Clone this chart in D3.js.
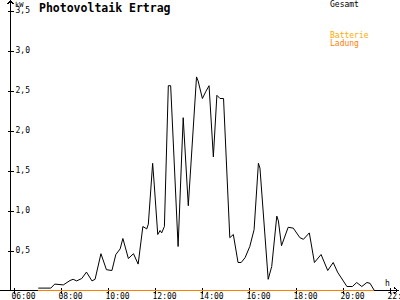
<!DOCTYPE html>
<html>
<head>
<meta charset="utf-8">
<script src="https://cdn.jsdelivr.net/npm/d3@7"></script>
<style>
  body{margin:0;background:#fff;}
  svg text{font-family:"DejaVu Sans Mono",monospace;}
</style>
</head>
<body>
<div class="chart"></div>
<script>
/*Data*/
var gesamtTimes=["07:02","07:34","07:44","08:06","08:23","08:31","08:40","08:53","09:05","09:19",
  "09:27","09:42","09:56","10:10","10:20","10:31","10:38","10:52","11:05","11:17",
  "11:29","11:39","11:43","11:54","11:58","12:07","12:13","12:17","12:24","12:34",
  "12:40","12:59","13:12","13:25","13:46","13:50","14:01","14:10","14:18","14:29",
  "14:38","14:46","14:55","15:11","15:20","15:32","15:40","15:50","16:02","16:13",
  "16:24","16:28","16:49","16:58","17:11","17:15","17:23","17:40","17:53","18:10",
  "18:19","18:34","18:47","19:04","19:21","19:35","19:46","20:10","20:24","20:35",
  "20:48","21:01","21:09","21:20"];
var gesamtValues=[0.03,0.03,0.08,0.07,0.125,0.14,0.12,0.15,0.23,0.12,
  0.14,0.46,0.26,0.25,0.45,0.52,0.65,0.40,0.46,0.33,
  0.80,0.77,0.83,1.59,1.33,0.70,0.75,0.72,0.80,2.56,
  2.56,0.55,2.16,1.06,2.67,2.62,2.40,2.49,2.56,1.67,
  2.44,2.40,2.40,0.66,0.70,0.35,0.35,0.41,0.55,0.76,
  1.59,1.53,0.14,0.30,0.93,0.87,0.56,0.79,0.78,0.66,
  0.64,0.72,0.35,0.45,0.25,0.35,0.23,0.05,0.05,0.10,
  0.05,0.10,0.09,0.0];
var ladungTimes=["07:02","21:20"];
var ladungValues=[0,0];
var xTicks=[6,8,10,12,14,16,18,20,22];
var xLabels=["06:00","08:00","10:00","12:00","14:00","16:00","18:00","20:00","22:"];
var yTicks=[0.5,1.0,1.5,2.0,2.5,3.0,3.5];
var legendNames=["Gesamt","Batterie","Ladung"];

/*dimensions*/
var width=400, height=300;
var axisX=10.5, axisY=290.5;

function toHours(s){
  var p=s.split(":");
  return +p[0]+(+p[1])/60;
}
var gesamt=gesamtTimes.map(function(t,i){return {h:toHours(t), v:gesamtValues[i]};});
var ladung=ladungTimes.map(function(t,i){return {h:toHours(t), v:ladungValues[i]};});

/*Scales*/
var xScale=d3.scaleLinear().domain([6,22]).range([14,390]);
var yScale=d3.scaleLinear().domain([0,3.5]).range([axisY,10.5]);

var canvas=d3.select(".chart").append("svg")
  .attr("width", width)
  .attr("height", height);

/*title*/
canvas.append("text")
  .text("Photovoltaik Ertrag")
  .attr("x", 39)
  .attr("y", 12)
  .style("font-weight", "bold")
  .style("font-size", "11.5px")
  .style("fill", "#000");

/*legend*/
var legendColors=["#000000","#ffaa00","#ff8000"];
var legendY=[7,38,46];
legendNames.forEach(function(n,i){
  canvas.append("text")
    .text(n)
    .attr("x", 330)
    .attr("y", legendY[i])
    .style("font-size", "8px")
    .style("fill", legendColors[i]);
});

/*lines*/
var line=d3.line()
  .x(function(d){return xScale(d.h)})
  .y(function(d){return yScale(d.v)});

/*axes*/
var yAxis=d3.axisLeft(yScale)
  .tickValues(yTicks)
  .tickFormat(function(d){return d3.format(".1f")(d).replace(".", ",")});
var gy=canvas.append("g")
  .attr("class", "y-axis")
  .attr("transform", "translate("+axisX+",0)")
  .call(yAxis);
gy.select(".domain").remove();
gy.selectAll(".tick line").attr("x1", -3).attr("x2", 3).attr("stroke", "#000");
gy.selectAll(".tick text")
  .attr("x", 5)
  .attr("dy", "0.3em")
  .attr("text-anchor", "start")
  .style("font-size", "8px")
  .style("fill", "#000");

var xAxis=d3.axisBottom(xScale)
  .tickValues(xTicks)
  .tickFormat(function(d,i){return xLabels[i]});
var gx=canvas.append("g")
  .attr("class", "x-axis")
  .attr("transform", "translate(0,"+axisY+")")
  .call(xAxis);
gx.select(".domain").remove();
gx.selectAll(".tick line").attr("y1", -3).attr("y2", 3).attr("stroke", "#000");
gx.selectAll(".tick text")
  .attr("x", -3)
  .attr("y", 8.5)
  .attr("dy", 0)
  .attr("text-anchor", "start")
  .style("font-size", "8px")
  .style("fill", "#000");
canvas.selectAll(".tick line").style("shape-rendering", "crispEdges");

/*axis lines with arrows*/
canvas.append("path")
  .attr("d", "M"+axisX+","+axisY+" L"+axisX+",1 M"+(axisX-3)+",4 L"+axisX+",1 L"+(axisX+3)+",4")
  .attr("fill", "none").attr("stroke", "#000").style("shape-rendering", "crispEdges");
canvas.append("path")
  .attr("d", "M0,"+axisY+" L398,"+axisY+" M394,"+(axisY-3)+" L398,"+axisY+" L394,"+(axisY+3))
  .attr("fill", "none").attr("stroke", "#000").style("shape-rendering", "crispEdges");

canvas.append("text").text("kW")
  .attr("x", 15).attr("y", 7)
  .style("font-size", "7px").style("fill", "#000");
canvas.append("text").text("h")
  .attr("x", 385).attr("y", 286)
  .style("font-size", "8px").style("fill", "#000");

canvas.append("path")
  .datum(gesamt)
  .attr("class", "gesamt")
  .attr("d", line)
  .attr("fill", "none")
  .attr("stroke", "#000")
  .attr("stroke-width", 1);

canvas.append("path")
  .datum(ladung)
  .attr("class", "ladung")
  .attr("d", line)
  .attr("fill", "none")
  .attr("stroke", "#ff8000")
  .attr("stroke-width", 1)
  .style("shape-rendering", "crispEdges");
</script>
</body>
</html>
